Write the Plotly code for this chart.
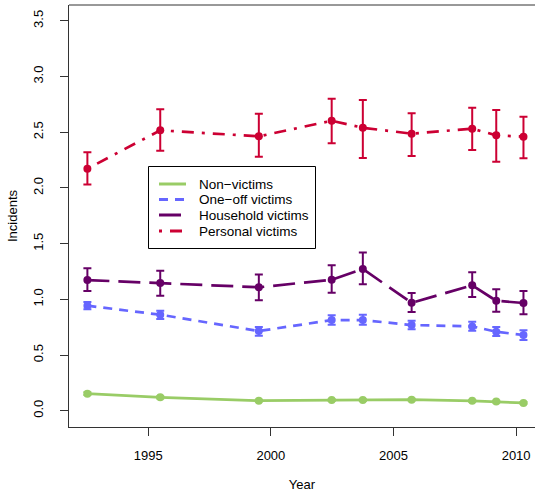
import plotly.graph_objects as go

years = [1992.52, 1995.49, 1999.51, 2002.48, 2003.75, 2005.74, 2008.21, 2009.19, 2010.3]

non_victims = [0.153, 0.120, 0.090, 0.096, 0.096, 0.099, 0.089, 0.082, 0.070]
non_err = [0.012, 0.010, 0.008, 0.008, 0.008, 0.008, 0.008, 0.008, 0.008]

one_off = [0.943, 0.862, 0.715, 0.814, 0.814, 0.769, 0.757, 0.709, 0.680]
one_off_hi = [0.976, 0.898, 0.751, 0.856, 0.862, 0.808, 0.799, 0.751, 0.722]
one_off_lo = [0.910, 0.823, 0.673, 0.772, 0.772, 0.731, 0.718, 0.670, 0.635]

household = [1.173, 1.146, 1.108, 1.176, 1.272, 0.969, 1.126, 0.987, 0.967]
household_hi = [1.278, 1.257, 1.224, 1.305, 1.420, 1.057, 1.242, 1.090, 1.074]
household_lo = [1.074, 1.032, 0.991, 1.059, 1.135, 0.886, 1.021, 0.889, 0.865]

personal = [2.172, 2.517, 2.463, 2.603, 2.540, 2.487, 2.532, 2.472, 2.460]
personal_hi = [2.320, 2.706, 2.666, 2.800, 2.789, 2.670, 2.720, 2.700, 2.640]
personal_lo = [2.030, 2.334, 2.280, 2.400, 2.268, 2.286, 2.340, 2.235, 2.266]

x_ticks = [1995, 2000, 2005, 2010]
y_ticks = [0.0, 0.5, 1.0, 1.5, 2.0, 2.5, 3.0, 3.5]
y_tick_text = ["0.0", "0.5", "1.0", "1.5", "2.0", "2.5", "3.0", "3.5"]

series_names = ["Non\u2212victims", "One\u2212off victims", "Household victims", "Personal victims"]
series_colors = ["#99CC66", "#6666FF", "#660066", "#CC0033"]
series_dashes = ["solid", "9px,7px", "22px,9px", "3px,8px,12px,8px"]

series = [
    (non_victims, [a + e for a, e in zip(non_victims, non_err)],
     [a - e for a, e in zip(non_victims, non_err)]),
    (one_off, one_off_hi, one_off_lo),
    (household, household_hi, household_lo),
    (personal, personal_hi, personal_lo),
]

# plot-area pixel geometry (for placing the legend box in paper coords)
L, R, T, B = 69, 535, 5, 427
W, H = R - L, B - T


def px(x):
    return (x - L) / W


def py(y):
    return (B - y) / H


fig = go.Figure()
for (vals, hi, lo), name, color, dash in zip(series, series_names, series_colors, series_dashes):
    fig.add_trace(go.Scatter(
        x=years, y=vals, mode="lines+markers", name=name, showlegend=False,
        line=dict(color=color, width=2.7, dash=dash),
        marker=dict(color=color, size=8),
        error_y=dict(type="data", symmetric=False,
                     array=[h - v for h, v in zip(hi, vals)],
                     arrayminus=[v - l for v, l in zip(vals, lo)],
                     color=color, thickness=2, width=4),
    ))

# top border of the box
fig.add_shape(type="line", xref="paper", yref="paper", x0=0, x1=1, y0=1, y1=1,
              line=dict(color="#333333", width=1))

# legend (drawn like R's legend())
fig.add_shape(type="rect", xref="paper", yref="paper",
              x0=px(148.5), x1=px(315.5), y0=py(248.5), y1=py(166.5),
              line=dict(color="black", width=1), fillcolor="white", layer="above")
row_y = [184, 199.5, 215, 231]
for ry, name, color, dash in zip(row_y, series_names, series_colors, series_dashes):
    fig.add_shape(type="line", xref="paper", yref="paper",
                  x0=px(159), x1=px(186), y0=py(ry), y1=py(ry),
                  line=dict(color=color, width=3, dash=dash), layer="above")
    fig.add_annotation(xref="paper", yref="paper", x=px(197), y=py(ry),
                       text=name, showarrow=False, xanchor="left", yanchor="middle",
                       font=dict(size=13.5, color="black"))

fig.update_layout(
    width=535, height=492,
    margin=dict(l=L, r=0, t=T, b=492 - B),
    plot_bgcolor="white", paper_bgcolor="white",
    font=dict(family="Liberation Sans, Arial, sans-serif", size=13, color="black"),
    showlegend=False,
    xaxis=dict(range=[1991.77, 2010.77], tickvals=x_ticks, ticks="outside", ticklen=8,
               tickcolor="#333333", showline=True, linecolor="#333333", linewidth=1,
               showgrid=False, zeroline=False, tickfont=dict(size=13),
               title=dict(text="Year", standoff=21, font=dict(size=13)),
               ticklabelstandoff=8),
    yaxis=dict(range=[-0.146, 3.642], tickvals=y_ticks, ticktext=y_tick_text,
               ticks="outside", ticklen=8, tickangle=-90, tickfont=dict(size=13),
               tickcolor="#333333", showline=True, linecolor="#333333", linewidth=1,
               showgrid=False, zeroline=False,
               title=dict(text="Incidents", standoff=10, font=dict(size=13)),
               ticklabelstandoff=12),
)

fig.write_html("out.html")
